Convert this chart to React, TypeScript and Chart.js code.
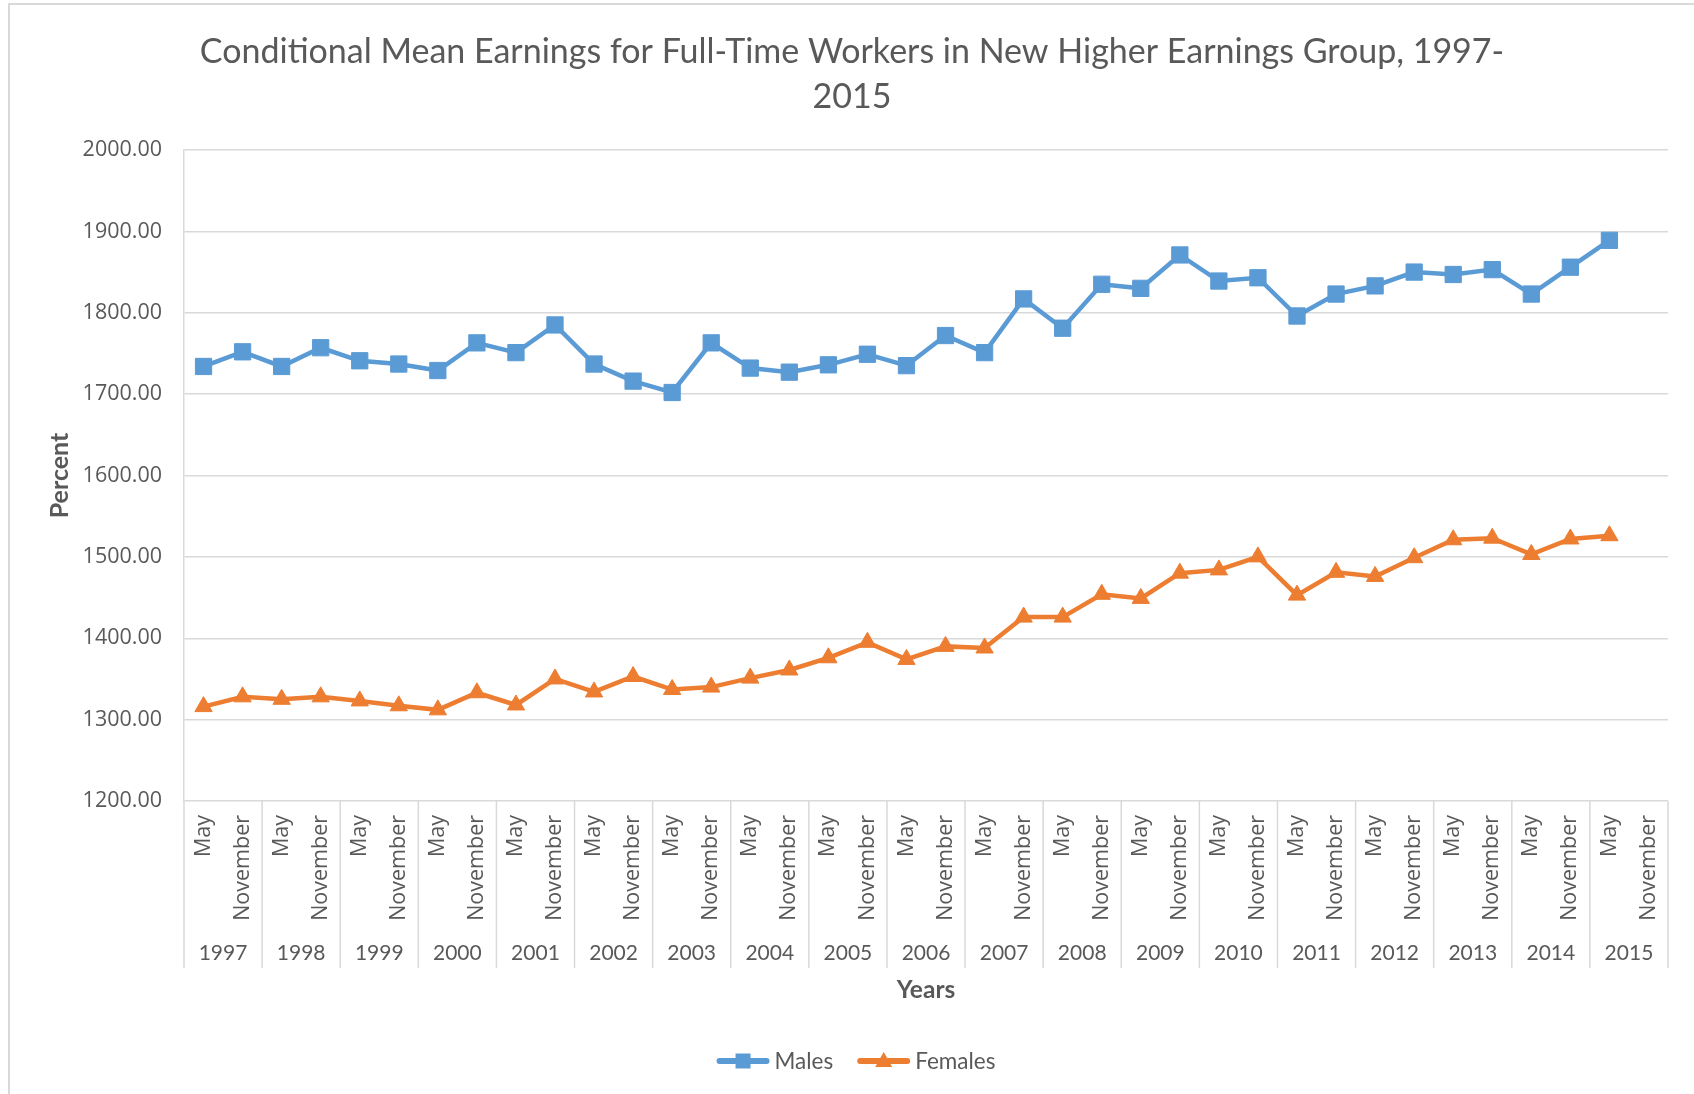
import React, { useEffect, useRef } from 'react';
import { Chart, registerables } from 'chart.js';

Chart.register(...registerables);

const TITLE_LINES = [
  'Conditional Mean Earnings for Full-Time Workers in New Higher Earnings Group, 1997-',
  '2015',
];
const YEARS = ['1997', '1998', '1999', '2000', '2001', '2002', '2003', '2004', '2005', '2006',
  '2007', '2008', '2009', '2010', '2011', '2012', '2013', '2014', '2015'];
const MONTHS = ['May', 'November'];
const CATEGORY_LABELS = YEARS.flatMap(() => MONTHS);

const MALES = [1734, 1752, 1734, 1757, 1741, 1737, 1729, 1763, 1751, 1785,
  1737, 1716, 1702, 1763, 1732, 1727, 1736, 1749, 1735, 1772,
  1751, 1817, 1781, 1835, 1830, 1871, 1839, 1843, 1796, 1823,
  1833, 1850, 1847, 1853, 1823, 1856, 1889, null];
const FEMALES = [1316, 1328, 1325, 1328, 1323, 1317, 1312, 1333, 1318, 1350,
  1334, 1353, 1337, 1340, 1351, 1361, 1376, 1395, 1374, 1390,
  1388, 1426, 1426, 1454, 1449, 1480, 1484, 1500, 1453, 1481,
  1476, 1499, 1521, 1523, 1503, 1522, 1526, null];

const SERIES_NAMES = ['Males', 'Females'];
const SERIES_COLORS = ['#5b9bd5', '#ed7d31'];
const SERIES_STYLES = ['rect', 'triangle'];
const Y_MIN = 1200;
const Y_MAX = 2000;
const Y_STEP = 100;
const Y_TITLE = 'Percent';
const X_TITLE = 'Years';

const TEXT = '#595959';
const GRID = '#d9d9d9';
const CALIBRI_LIKE = 'Lato, "Liberation Sans", sans-serif';
const TICK_FONT = '"Open Sans", "DejaVu Sans", sans-serif';

function drawMarker(ctx: CanvasRenderingContext2D, style: string, x: number, y: number, color: string) {
  ctx.fillStyle = color;
  ctx.beginPath();
  if (style === 'rect') {
    ctx.rect(x - 7.5, y - 7.5, 15, 15);
  } else {
    ctx.moveTo(x, y - 9);
    ctx.lineTo(x + 8.5, y + 6);
    ctx.lineTo(x - 8.5, y + 6);
    ctx.closePath();
  }
  ctx.fill();
}

const decorPlugin = {
  id: 'decor',
  afterDraw(chart: any) {
    const { ctx, chartArea: ca, scales, width } = chart;
    const xs = scales.x;
    const n = CATEGORY_LABELS.length;
    const half = (xs.getPixelForValue(1) - xs.getPixelForValue(0)) / 2;
    ctx.save();

    // year group separators
    ctx.strokeStyle = GRID;
    ctx.lineWidth = 1.5;
    for (let g = 0; g <= YEARS.length; g++) {
      const px = g < YEARS.length
        ? xs.getPixelForValue(g * MONTHS.length) - half
        : xs.getPixelForValue(n - 1) + half;
      ctx.beginPath();
      ctx.moveTo(px, ca.bottom);
      ctx.lineTo(px, ca.bottom + 167);
      ctx.stroke();
    }

    // year labels
    ctx.fillStyle = TEXT;
    ctx.font = `21px ${CALIBRI_LIKE}`;
    ctx.textAlign = 'center';
    ctx.textBaseline = 'alphabetic';
    YEARS.forEach((y, g) => {
      const cx = (xs.getPixelForValue(g * 2) + xs.getPixelForValue(g * 2 + 1)) / 2;
      ctx.fillText(y, cx, ca.bottom + 159);
    });

    // x axis title
    ctx.font = `bold 24.5px ${CALIBRI_LIKE}`;
    ctx.fillText(X_TITLE, (ca.left + ca.right) / 2, ca.bottom + 197);

    // chart title
    ctx.font = `34px ${CALIBRI_LIKE}`;
    ctx.fillText(TITLE_LINES[0], width / 2, 58);
    ctx.fillText(TITLE_LINES[1], width / 2, 103);

    // legend
    ctx.font = `22.5px ${CALIBRI_LIKE}`;
    const lineLen = 53;
    const tGap = 5;
    const iGap = 24;
    const widths = SERIES_NAMES.map((nm) => lineLen + tGap + ctx.measureText(nm).width);
    const total = widths.reduce((a, b) => a + b, 0) + iGap * (SERIES_NAMES.length - 1);
    let lx = width / 2 - total / 2 + 4;
    const ly = ca.bottom + 260;
    SERIES_NAMES.forEach((nm, i) => {
      ctx.strokeStyle = SERIES_COLORS[i];
      ctx.lineWidth = 6;
      ctx.lineCap = 'round';
      ctx.beginPath();
      ctx.moveTo(lx + 3, ly);
      ctx.lineTo(lx + lineLen - 3, ly);
      ctx.stroke();
      drawMarker(ctx, SERIES_STYLES[i], lx + lineLen / 2, ly, SERIES_COLORS[i]);
      ctx.fillStyle = TEXT;
      ctx.textAlign = 'left';
      ctx.textBaseline = 'alphabetic';
      ctx.fillText(nm, lx + lineLen + tGap, ly + 8);
      lx += widths[i] + iGap;
    });

    ctx.restore();
  },
};

export default function App() {
  const ref = useRef<HTMLCanvasElement | null>(null);

  useEffect(() => {
    if (!ref.current) return;
    const seriesData = [MALES, FEMALES];
    const chart = new Chart(ref.current, {
      type: 'line',
      data: {
        labels: CATEGORY_LABELS,
        datasets: SERIES_NAMES.map((name, i) => ({
          label: name,
          data: seriesData[i],
          borderColor: SERIES_COLORS[i],
          backgroundColor: SERIES_COLORS[i],
          borderWidth: 4.5,
          pointStyle: SERIES_STYLES[i] as any,
          pointRadius: i === 0 ? 11.5 : 10,
          pointBorderWidth: 1,
          pointBorderColor: SERIES_COLORS[i],
          pointBackgroundColor: SERIES_COLORS[i],
          tension: 0,
          spanGaps: false,
        })),
      },
      options: {
        responsive: false,
        animation: false,
        devicePixelRatio: 1,
        layout: { padding: { top: 145, right: 26, left: 0, bottom: 0 } },
        plugins: {
          legend: { display: false },
          title: { display: false },
          tooltip: { enabled: false },
        },
        scales: {
          x: {
            type: 'category',
            offset: true,
            grid: { display: false, drawTicks: false },
            border: { display: false },
            ticks: {
              autoSkip: false,
              maxRotation: 90,
              minRotation: 90,
              padding: 14,
              color: TEXT,
              font: { family: TICK_FONT, size: 21.5 },
            },
            afterFit(scale: any) {
              scale.height = 293;
            },
          },
          y: {
            min: Y_MIN,
            max: Y_MAX,
            ticks: {
              stepSize: Y_STEP,
              padding: 22,
              color: TEXT,
              font: { family: TICK_FONT, size: 21.5 },
              callback: (v: any) => Number(v).toFixed(2),
            },
            grid: { color: GRID, lineWidth: 1.5, drawTicks: false },
            border: { display: true, color: GRID, width: 1.5 },
            title: {
              display: true,
              text: Y_TITLE,
              color: TEXT,
              font: { family: CALIBRI_LIKE, size: 25, weight: 'bold' },
              padding: { top: 35, bottom: 0 },
            },
            afterFit(scale: any) {
              scale.width = 174;
            },
          },
        },
      },
      plugins: [decorPlugin],
    });
    return () => chart.destroy();
  }, []);

  return (
    <div
      style={{
        position: 'fixed',
        left: 8,
        top: 3,
        width: 1686,
        height: 1091,
        borderLeft: `2px solid ${GRID}`,
        borderTop: `2px solid ${GRID}`,
        boxSizing: 'border-box',
        background: '#fff',
        overflow: 'hidden',
      }}
    >
      <canvas ref={ref} width={1684} height={1089} style={{ display: 'block' }} />
    </div>
  );
}
